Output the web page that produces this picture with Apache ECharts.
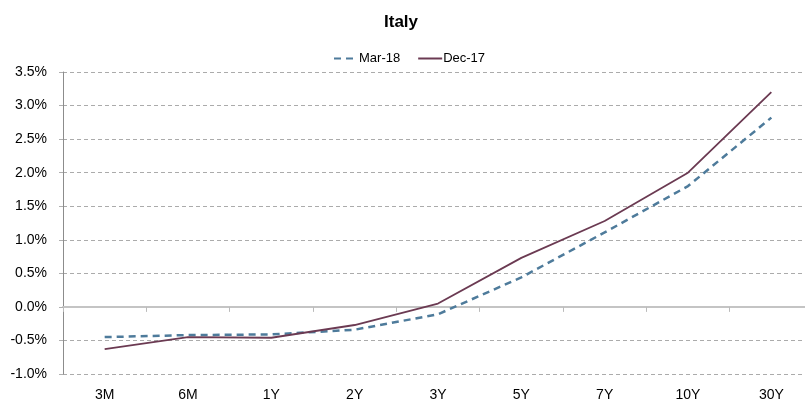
<!DOCTYPE html>
<html>
<head>
<meta charset="utf-8">
<script src="https://cdn.jsdelivr.net/npm/echarts@6/dist/echarts.min.js"></script>
<style>
  html, body { margin: 0; padding: 0; background: #fff; overflow: hidden; }
  /* plot area runs a little past the right edge of the window */
  #chart { width: 813px; height: 404px; }
</style>
</head>
<body>
<div id="chart"></div>
<script>
// Italian government yield curve by tenor (%)
var tenors = ['3M', '6M', '1Y', '2Y', '3Y', '5Y', '7Y', '10Y', '30Y'];
var mar18 = [-0.45, -0.42, -0.41, -0.34, -0.11, 0.44, 1.11, 1.80, 2.82];
var dec17 = [-0.63, -0.45, -0.46, -0.27, 0.05, 0.73, 1.28, 2.00, 3.20];
var seriesNames = ['Mar-18', 'Dec-17'];

var FONT = '"Liberation Sans Narrow", "Liberation Sans", Arial, sans-serif';

var chart = echarts.init(document.getElementById('chart'), null, { renderer: 'canvas' });

chart.setOption({
  backgroundColor: '#ffffff',
  animation: false,
  textStyle: { fontFamily: FONT },
  title: {
    text: 'Italy',
    left: 396,
    textAlign: 'center',
    top: 9,
    textStyle: { fontFamily: 'Liberation Sans, Arial, sans-serif', fontSize: 17, fontWeight: 'bold', color: '#000' }
  },
  legend: {
    top: 47,
    left: 328,
    itemWidth: 24,
    itemHeight: 10,
    itemGap: 17,
    itemStyle: { opacity: 0 },
    textStyle: { fontFamily: FONT, fontSize: 13, color: '#000', padding: [0, 0, 0, -4] },
    data: seriesNames
  },
  grid: {
    left: 63,
    top: 72,
    width: 750,
    bottom: 30,
    containLabel: false
  },
  xAxis: [
    {
      type: 'category',
      data: tenors,
      boundaryGap: true,
      position: 'bottom',
      axisLine: { show: false, onZero: false },
      axisTick: { show: false },
      axisLabel: { margin: 14, fontFamily: FONT, fontSize: 14, color: '#000' },
      splitLine: { show: false }
    },
    {
      type: 'category',
      data: tenors,
      boundaryGap: true,
      position: 'bottom',
      axisLine: { show: true, onZero: true, lineStyle: { color: '#c4c4c4', width: 2 } },
      axisTick: { show: true, length: 5, lineStyle: { color: '#bbbbbb', width: 1 } },
      axisLabel: { show: false },
      splitLine: { show: false }
    }
  ],
  yAxis: {
    type: 'value',
    min: -1,
    max: 3.5,
    interval: 0.5,
    axisLine: { show: true, lineStyle: { color: '#8c8c8c', width: 1 } },
    axisTick: { show: true, length: 6, lineStyle: { color: '#b0b0b0', type: 'dashed' } },
    axisLabel: {
      margin: 16,
      fontFamily: FONT,
      fontSize: 14,
      color: '#000',
      formatter: function (v) { return v.toFixed(1) + '%'; }
    },
    splitLine: { show: true, lineStyle: { color: '#ababab', type: [4, 3], width: 1 } }
  },
  series: [
    {
      name: seriesNames[0],
      type: 'line',
      data: mar18,
      symbol: 'none',
      xAxisIndex: 0,
      lineStyle: { color: '#4e7b9b', width: 2.5, type: [7, 5] },
      itemStyle: { color: '#4e7b9b' },
      z: 3
    },
    {
      name: seriesNames[1],
      type: 'line',
      data: dec17,
      symbol: 'none',
      xAxisIndex: 0,
      lineStyle: { color: '#6b3a52', width: 1.8 },
      itemStyle: { color: '#6b3a52' },
      z: 4
    }
  ]
});
</script>
</body>
</html>
